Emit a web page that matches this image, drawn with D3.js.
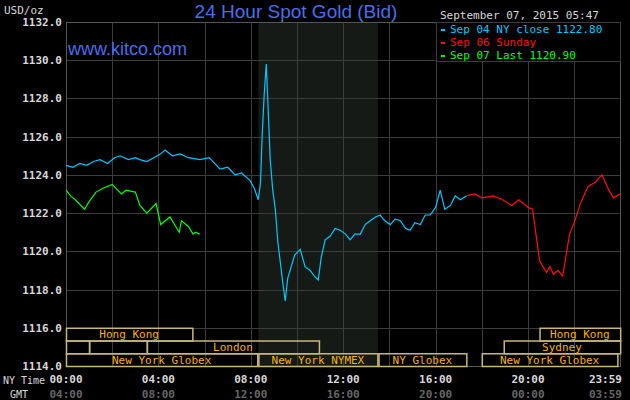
<!DOCTYPE html>
<html><head><meta charset="utf-8">
<script src="https://cdn.jsdelivr.net/npm/d3@7"></script>
<style>body{margin:0;background:#000}svg{display:block}</style></head>
<body><svg id="c" width="630" height="400"></svg>
<script>
// hours (NY time), price
const sep04Hours = [0,0.3,0.6,0.9,1.2,1.47,1.8,2.1,2.34,2.7,3.0,3.2,3.5,3.8,4.1,4.29,4.6,4.94,5.3,5.8,6.2,6.67,7.0,7.32,7.6,7.97,8.15,8.32,8.42,8.49,8.58,8.67,8.75,8.84,8.95,9.06,9.17,9.27,9.38,9.49,9.6,9.7,9.9,10.14,10.35,10.57,10.75,10.92,11.05,11.22,11.44,11.65,11.87,12.1,12.3,12.5,12.74,12.95,13.17,13.4,13.6,13.8,14.04,14.25,14.47,14.7,14.9,15.1,15.34,15.55,15.77,16.0,16.2,16.4,16.64,16.85,17.07,17.33];
const sep04Values = [1124.5,1124.4,1124.6,1124.5,1124.7,1124.8,1124.6,1124.9,1125.0,1124.8,1124.9,1124.8,1124.7,1124.9,1125.1,1125.3,1125.0,1125.1,1124.9,1124.8,1124.9,1124.3,1124.4,1124.0,1124.1,1123.7,1123.3,1122.7,1123.6,1126.0,1128.2,1129.8,1127.5,1124.8,1123.2,1122.2,1120.5,1119.5,1118.4,1117.4,1118.6,1119.0,1119.8,1120.1,1119.2,1119.0,1118.7,1118.5,1119.7,1120.6,1120.8,1121.2,1121.1,1120.9,1120.6,1120.9,1120.9,1121.4,1121.6,1121.8,1121.9,1121.6,1121.4,1121.7,1121.6,1121.2,1121.1,1121.5,1121.4,1121.9,1121.9,1122.3,1123.2,1122.2,1122.4,1122.9,1122.7,1122.9];
const sep06Hours = [17.33,17.7,18.0,18.5,18.9,19.3,19.6,19.8,20.0,20.2,20.5,20.8,20.95,21.1,21.3,21.5,21.8,22.0,22.3,22.6,22.9,23.2,23.5,23.7,23.98];
const sep06Values = [1122.9,1123.0,1122.8,1122.9,1122.7,1122.4,1122.7,1122.5,1122.3,1122.2,1119.5,1118.9,1119.2,1118.8,1119.0,1118.7,1120.9,1121.5,1122.6,1123.4,1123.6,1124.0,1123.2,1122.8,1123.0];
const sep07Hours = [0,0.2,0.4,0.8,1.0,1.3,1.6,2.0,2.4,2.6,3.0,3.2,3.5,3.9,4.1,4.5,4.9,5.0,5.3,5.5,5.6,5.79];
const sep07Values = [1123.2,1122.9,1122.7,1122.2,1122.6,1123.1,1123.3,1123.5,1123.0,1123.2,1123.1,1122.4,1122.0,1122.5,1121.4,1121.8,1121.0,1121.6,1121.3,1120.9,1121.0,1120.9];
const yTicks = [1114,1116,1118,1120,1122,1124,1126,1128,1130,1132];
const xTicks = [0,4,8,12,16,20,23.983];
const nyLabels = ["00:00","04:00","08:00","12:00","16:00","20:00","23:59"];
const gmtLabels = ["04:00","08:00","12:00","16:00","20:00","00:00","03:59"];
const shadeHours = [8.33,13.5];
// sessions: [row, start hour, end hour, label]
const sessions = [
 [0,0,5.47,"Hong Kong"],[0,20.5,23.99,"Hong Kong"],
 [1,0,1.0,""],[1,1.0,3.5,""],[1,3.5,10.95,"London"],[1,18.95,23.99,"Sydney"],
 [2,0,8.28,"New York Globex"],[2,8.33,13.48,"New York NYMEX"],[2,13.53,17.33,"NY Globex"],[2,18.0,23.87,"New York Globex"]
];
const legendItems = [["Sep 04 NY close 1122.80","#00c8ff"],["Sep 06 Sunday","#ff1010"],["Sep 07 Last 1120.90","#00ff00"]];

const svg = d3.select("#c");
const L=66,R=620,T=22,B=366;
const x = d3.scaleLinear().domain([0,23.983]).range([L,R]);
const y = d3.scaleLinear().domain([1114,1132]).range([B,T]);
const mono = "'DejaVu Sans Mono', monospace";

svg.append("rect").attr("x",x(shadeHours[0])).attr("y",T).attr("width",x(shadeHours[1])-x(shadeHours[0])).attr("height",B-T).attr("fill","#161a16");
const grid = svg.append("g").attr("stroke","#3c3c3c").attr("stroke-width",1);
d3.range(0,24.1,2).forEach(h=>{const xx=Math.round(x(Math.min(h,23.983)))+0.5;grid.append("line").attr("x1",xx).attr("x2",xx).attr("y1",T).attr("y2",B);});
yTicks.forEach(v=>{const yy=Math.round(y(v))+0.5;grid.append("line").attr("x1",L).attr("x2",R).attr("y1",yy).attr("y2",yy);});
svg.append("rect").attr("x",L+0.5).attr("y",T+0.5).attr("width",R-L).attr("height",B-T).attr("fill","none").attr("stroke","#555");

yTicks.forEach(v=>svg.append("text").attr("x",L-4).attr("y",y(v)+4).attr("text-anchor","end").attr("fill","#d8d8d8").attr("font-family",mono).attr("font-size",11).attr("font-weight","bold").text(v.toFixed(1)));
svg.append("text").attr("x",4).attr("y",14).attr("fill","#d8d8d8").attr("font-family",mono).attr("font-size",11).text("USD/oz");

const rowH=(B-y(1116))/3;
sessions.forEach(s=>{
 const y0=y(1116)+s[0]*rowH;
 svg.append("rect").attr("x",x(s[1])+0.5).attr("y",y0+0.5).attr("width",x(s[2])-x(s[1])).attr("height",rowH).attr("fill","none").attr("stroke","#c8b878").attr("stroke-width",1.5);
 if(s[3]) svg.append("text").attr("x",(x(s[1])+x(s[2]))/2).attr("y",y0+rowH-2.5).attr("text-anchor","middle").attr("fill","#f4b400").attr("font-family",mono).attr("font-size",11).text(s[3]);
});

const line = d3.line().x(d=>x(d[0])).y(d=>y(d[1]));
const draw=(hs,vs,c)=>svg.append("path").datum(hs.map((h,i)=>[h,vs[i]])).attr("d",line).attr("fill","none").attr("stroke",c).attr("stroke-width",1.2);
draw(sep04Hours,sep04Values,"#00c8ff");
draw(sep06Hours,sep06Values,"#ff1010");
draw(sep07Hours,sep07Values,"#00ff00");

xTicks.forEach((h,i)=>{
 const last=i===xTicks.length-1;
 const xx=last?R+2:x(h), a=last?"end":"middle";
 svg.append("text").attr("x",xx).attr("y",383).attr("text-anchor",a).attr("fill","#d8d8d8").attr("font-family",mono).attr("font-size",11).attr("font-weight","bold").text(nyLabels[i]);
 svg.append("text").attr("x",xx).attr("y",398).attr("text-anchor",a).attr("fill","#666").attr("font-family",mono).attr("font-size",11).attr("font-weight","bold").text(gmtLabels[i]);
});
svg.append("text").attr("x",3).attr("y",384).attr("fill","#d8d8d8").attr("font-family",mono).attr("font-size",10).text("NY Time");
svg.append("text").attr("x",10).attr("y",398).attr("fill","#d8d8d8").attr("font-family",mono).attr("font-size",10).text("GMT");

svg.append("text").attr("x",296).attr("y",18).attr("text-anchor","middle").attr("fill","#4a6ee8").attr("font-family","'Liberation Sans', Arial, sans-serif").attr("font-size",19).text("24 Hour Spot Gold (Bid)");
svg.append("text").attr("x",68).attr("y",55).attr("fill","#4a6ee8").attr("font-family","'Liberation Sans', Arial, sans-serif").attr("font-size",18).text("www.kitco.com");
svg.append("text").attr("x",440).attr("y",19).attr("fill","#d8d8d8").attr("font-family",mono).attr("font-size",11).text("September 07, 2015 05:47");

svg.append("rect").attr("x",436.5).attr("y",T+0.5).attr("width",R-436).attr("height",39).attr("fill","#000").attr("stroke","#3c3c3c");
legendItems.forEach((d,i)=>{
 const yy=T+11+i*13;
 svg.append("rect").attr("x",441).attr("y",yy-4).attr("width",4).attr("height",2).attr("fill",d[1]);
 svg.append("text").attr("x",450).attr("y",yy).attr("fill",d[1]).attr("font-family",mono).attr("font-size",11).text(d[0]);
});
</script></body></html>
